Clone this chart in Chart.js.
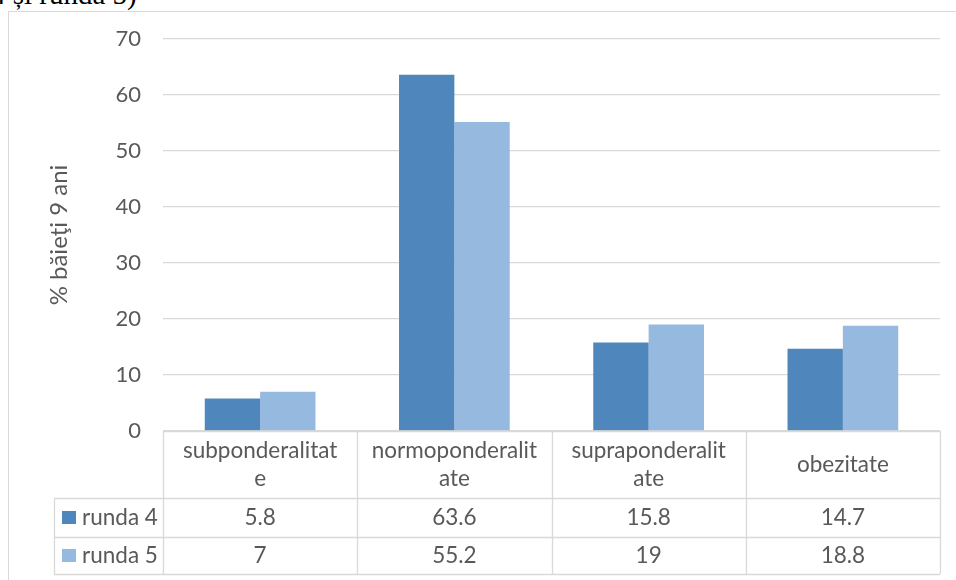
<!DOCTYPE html>
<html>
<head>
<meta charset="utf-8">
<script src="https://cdn.jsdelivr.net/npm/chart.js@4"></script>
<style>
  html, body { margin: 0; padding: 0; background: #ffffff; }
  #wrap { position: relative; width: 956px; height: 580px; overflow: hidden; }
  #frame { position: absolute; left: 8px; top: 11px; width: 960px; height: 580px;
           border-left: 1px solid #d9d9d9; border-top: 1px solid #d9d9d9; box-sizing: border-box; }
  #cut { position: absolute; left: -9px; top: -20px; font-family: "Liberation Serif", serif;
         font-size: 29px; line-height: 29px; color: #000; white-space: nowrap; }
  canvas { position: absolute; left: 0; top: 0; }
</style>
</head>
<body>
<div id="wrap">
  <div id="cut">4 și runda 5)</div>
  <div id="frame"></div>
  <canvas id="c" width="956" height="580"></canvas>
</div>
<script>
const categories = [["subponderalitat", "e"], ["normoponderalit", "ate"], ["supraponderalit", "ate"], ["obezitate"]];
const seriesNames = ["runda 4", "runda 5"];
const runda4 = [5.8, 63.6, 15.8, 14.7];
const runda5 = [7, 55.2, 19, 18.8];
const yMin = 0, yMax = 70, yStep = 10;
const yTitle = "% băieţi 9 ani";

const colors = ["#4f87bc", "#96b9e0"];
const FONT = "Lato";
const TXT = "#595959";
const LINE = "#d9d9d9";

const tablePlugin = {
  id: "dataTable",
  afterDraw(chart) {
    const ctx = chart.ctx;
    const xs = chart.scales.x;
    const ca = chart.chartArea;
    const n = categories.length;
    const colW = (ca.right - ca.left) / n;
    const top = ca.bottom;
    const hdrBottom = top + 67;
    const r1Bottom = hdrBottom + 39;
    const r2Bottom = r1Bottom + 37;
    const legLeft = 54;
    ctx.save();
    ctx.strokeStyle = LINE;
    ctx.lineWidth = 1.3;
    ctx.beginPath();
    ctx.moveTo(ca.left, top + 0.5); ctx.lineTo(ca.right, top + 0.5);
    [hdrBottom, r1Bottom, r2Bottom].forEach(y => { ctx.moveTo(legLeft, y + 0.5); ctx.lineTo(ca.right, y + 0.5); });
    for (let i = 0; i <= n; i++) {
      const x = Math.round(ca.left + i * colW) + 0.5;
      ctx.moveTo(x, top); ctx.lineTo(x, r2Bottom);
    }
    ctx.moveTo(legLeft + 0.5, hdrBottom); ctx.lineTo(legLeft + 0.5, r2Bottom);
    ctx.stroke();

    ctx.fillStyle = TXT;
    ctx.font = "22.5px " + FONT;
    ctx.textAlign = "center";
    ctx.textBaseline = "middle";
    const hMid = (top + hdrBottom) / 2;
    categories.forEach((lines, i) => {
      const cx = xs.getPixelForValue(i);
      const lh = 28;
      const y0 = hMid - (lines.length - 1) * lh / 2;
      lines.forEach((t, k) => ctx.fillText(t, cx, y0 + k * lh));
    });
    const rows = [[runda4, hdrBottom, r1Bottom], [runda5, r1Bottom, r2Bottom]];
    rows.forEach(([vals, a, b], r) => {
      const cy = (a + b) / 2;
      vals.forEach((v, i) => {
        ctx.textAlign = "center";
        ctx.fillText(String(v), xs.getPixelForValue(i), cy);
      });
      ctx.fillStyle = colors[r];
      ctx.fillRect(62, cy - 6.5, 14, 13);
      ctx.fillStyle = TXT;
      ctx.textAlign = "left";
      ctx.fillText(seriesNames[r], 82, cy);
    });
    ctx.restore();
  }
};

new Chart(document.getElementById("c"), {
  type: "bar",
  data: {
    labels: categories.map(l => l.join("")),
    datasets: [
      { label: seriesNames[0], data: runda4, backgroundColor: colors[0] },
      { label: seriesNames[1], data: runda5, backgroundColor: colors[1] }
    ]
  },
  options: {
    responsive: false,
    animation: false,
    devicePixelRatio: 1,
    categoryPercentage: 0.57,
    barPercentage: 1,
    layout: { padding: { top: 39, right: 16, left: 0, bottom: 149 } },
    plugins: { legend: { display: false }, tooltip: { enabled: false } },
    scales: {
      x: { display: false },
      y: {
        min: yMin, max: yMax,
        ticks: { stepSize: yStep, padding: 22, color: TXT, font: { family: FONT, size: 22 } },
        grid: { color: LINE, lineWidth: 1.3, drawTicks: false },
        border: { display: false },
        title: { display: true, text: yTitle, color: TXT, font: { family: FONT, size: 24 }, padding: { top: 45, bottom: 0 } },
        afterFit(s) { s.width = 163; }
      }
    }
  },
  plugins: [tablePlugin]
});
</script>
</body>
</html>
